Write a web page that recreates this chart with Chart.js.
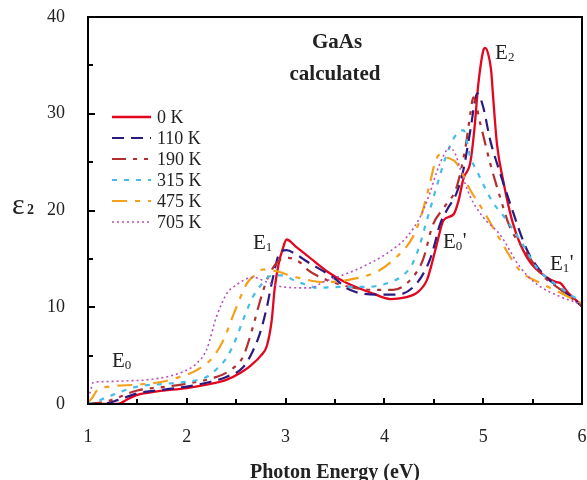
<!DOCTYPE html>
<html><head><meta charset="utf-8">
<script src="https://cdn.jsdelivr.net/npm/chart.js@4.4.1/dist/chart.umd.min.js"></script>
<style>html,body{margin:0;padding:0;background:#fff;}</style>
</head><body>
<canvas id="c" width="587" height="480"></canvas>
<script>
// ---- data ----
const seriesNames = ['0 K', '110 K', '190 K', '315 K', '475 K', '705 K'];
const xTicks = [1, 2, 3, 4, 5, 6];
const yTicks = [0, 10, 20, 30, 40];

const e0K = [1.0,1.25,1.32,1.4,1.5,1.7,2.0,2.2,2.4,2.54,2.65,2.75,2.81,2.86,2.89,2.93,2.97,3.01,3.1,3.2,3.42,3.62,3.89,4.06,4.2,4.33,4.43,4.48,4.53,4.6,4.7,4.75,4.8,4.87,4.91,4.95,5.0,5.02,5.05,5.08,5.1,5.14,5.2,5.3,5.44,5.64,5.74,5.78,5.86,6.0];
const v0K = [0,0,0.05,0.5,0.95,1.3,1.65,2.0,2.5,3.2,4.0,5.0,6.0,8.7,12.0,14.5,16.0,17.0,16.3,15.5,13.7,12.5,11.4,10.85,11.0,11.5,12.8,14.5,16.5,19.0,19.6,21.0,23.3,25.0,28.3,33.0,36.5,36.8,36.2,34.5,31.8,26.8,23.2,18.7,15.2,13.1,12.6,12.5,11.5,10.2];

const e110K = [1.0,1.2,1.3,1.5,1.7,2.0,2.2,2.4,2.57,2.66,2.74,2.81,2.86,2.94,3.01,3.1,3.22,3.48,3.65,3.96,4.13,4.33,4.46,4.5,4.56,4.63,4.73,4.80,4.87,4.94,5.0,5.07,5.17,5.27,5.44,5.6,5.8,6.0];
const v110K = [0,0.1,0.4,1.1,1.4,1.8,2.2,2.8,3.8,5.3,7.3,10.0,12.5,15.6,15.9,15.5,14.7,13.1,11.8,11.3,11.3,12.5,14.9,16.2,18.5,20.0,21.8,24.2,28.3,32.1,30.7,27.3,23.9,20.8,16.0,13.5,11.8,10.1];

const e190K = [1.0,1.2,1.5,1.8,2.0,2.3,2.44,2.57,2.67,2.74,2.81,2.91,3.03,3.15,3.22,3.42,3.65,3.89,4.09,4.26,4.39,4.49,4.61,4.73,4.82,4.87,4.90,4.97,5.07,5.17,5.27,5.44,5.6,5.8,6.0];
const v190K = [0,0.3,1.4,1.8,2.1,2.8,3.5,4.9,8.0,10.6,12.8,14.6,15.1,14.6,13.9,12.8,12.1,11.8,11.8,12.8,14.9,18.5,20.4,22.4,26.5,30.0,31.7,29.0,24.9,21.4,18.3,15.6,13.3,11.7,10.1];

const e315K = [1.0,1.05,1.19,1.5,1.8,2.0,2.2,2.3,2.41,2.5,2.57,2.67,2.76,2.84,2.97,3.1,3.22,3.32,3.55,3.82,4.06,4.2,4.29,4.36,4.43,4.53,4.62,4.71,4.80,4.87,4.94,5.02,5.10,5.20,5.37,5.55,5.8,6.0];
const v315K = [0,0.1,0.7,1.8,2.1,2.3,2.8,3.6,4.9,6.8,8.7,11.1,12.4,13.2,13.3,12.7,12.3,12.0,12.1,12.1,12.6,13.4,14.6,16.5,19.0,22.5,25.5,27.6,28.3,25.5,24.0,22.3,20.8,19.5,17.0,14.0,11.9,10.5];

const e475K = [1.0,1.04,1.09,1.22,1.5,1.75,1.93,2.1,2.27,2.37,2.49,2.61,2.7,2.77,2.92,3.04,3.15,3.38,3.62,3.93,4.09,4.29,4.38,4.46,4.52,4.57,4.63,4.73,4.87,5.0,5.17,5.37,5.58,5.78,6.0];
const v475K = [0.2,0.6,1.4,1.8,2.0,2.3,2.8,3.5,4.9,6.6,9.7,12.5,13.4,13.9,13.7,13.3,13.0,12.6,12.8,13.7,14.9,17.3,19.7,22.8,25.2,25.8,25.5,24.9,22.1,20.0,17.0,13.8,12.5,11.5,10.4];

const e705K = [1.0,1.03,1.05,1.12,1.4,1.6,1.93,2.1,2.2,2.3,2.41,2.5,2.67,2.81,2.97,3.25,3.38,3.72,4.03,4.23,4.36,4.45,4.53,4.59,4.66,4.72,4.77,4.87,5.0,5.17,5.37,5.54,5.78,6.0];
const v705K = [0.6,1.5,2.2,2.3,2.4,2.5,3.2,4.2,5.6,9.0,11.5,12.3,13.1,12.6,12.1,12.0,12.6,13.9,15.6,17.3,19.3,21.5,24.0,25.5,26.5,25.8,24.2,21.4,19.3,17.5,14.2,12.4,11.1,10.3];

const energies = [e0K, e110K, e190K, e315K, e475K, e705K];
const values = [v0K, v110K, v190K, v315K, v475K, v705K];

// ---- styles ----
const colors = ['#E3061F', '#2D1A80', '#B22F2F', '#45BDEB', '#F5A01A', '#BA4FBA'];
const dashes = [[], [12, 7], [14, 7, 4, 7, 4, 7], [5, 7], [15, 8, 5, 8], [2, 3]];
const widths = [2.3, 2.2, 2.2, 2.2, 2.2, 1.6];

const serif = "'Liberation Serif', 'Times New Roman', serif";

const datasets = seriesNames.map((n, i) => ({
  label: n,
  data: energies[i].map((e, k) => ({x: e, y: values[i][k]})),
  borderColor: colors[i],
  backgroundColor: colors[i],
  borderDash: dashes[i],
  borderWidth: widths[i],
  pointRadius: 0,
  fill: false,
  cubicInterpolationMode: 'monotone'
})).reverse();

const labels = [
  {t: 'E', s: '0', p: '', x: 1.243, y: 3.8},
  {t: 'E', s: '1', p: '', x: 2.67, y: 16.0},
  {t: 'E', s: '0', p: "'", x: 4.593, y: 16.1},
  {t: 'E', s: '2', p: '', x: 5.12, y: 35.7},
  {t: 'E', s: '1', p: "'", x: 5.676, y: 13.85}
];

const deco = {
  id: 'deco',
  afterDatasetsDraw(chart) {
    const {ctx, chartArea: a, scales: {x, y}} = chart;
    ctx.save();
    ctx.strokeStyle = '#000';
    ctx.lineWidth = 2;
    ctx.setLineDash([]);
    ctx.strokeRect(a.left, a.top, a.right - a.left, a.bottom - a.top);
    ctx.beginPath();
    for (let v = xTicks[0]; v <= xTicks[xTicks.length - 1] + 1e-6; v += 0.5) {
      const px = Math.round(x.getPixelForValue(v));
      const len = Math.abs(v - Math.round(v)) < 1e-6 ? 6 : 5;
      ctx.moveTo(px, a.bottom); ctx.lineTo(px, a.bottom - len);
    }
    for (let v = yTicks[0]; v <= yTicks[yTicks.length - 1] + 1e-6; v += 5) {
      const py = Math.round(y.getPixelForValue(v));
      const len = v % 10 === 0 ? 7 : 5;
      ctx.moveTo(a.left, py); ctx.lineTo(a.left + len, py);
    }
    ctx.stroke();

    // legend
    ctx.textBaseline = 'middle';
    ctx.textAlign = 'left';
    ctx.font = '18px ' + serif;
    seriesNames.forEach((n, i) => {
      const ly = 117 + i * 21;
      ctx.strokeStyle = colors[i];
      ctx.lineWidth = widths[i];
      ctx.setLineDash(dashes[i]);
      ctx.beginPath(); ctx.moveTo(112, ly); ctx.lineTo(151, ly); ctx.stroke();
      ctx.fillStyle = '#222';
      ctx.fillText(n, 157, ly + 1);
    });
    ctx.setLineDash([]);

    // peak labels
    ctx.textBaseline = 'alphabetic';
    ctx.fillStyle = '#222';
    labels.forEach(l => {
      const px = x.getPixelForValue(l.x), py = y.getPixelForValue(l.y);
      ctx.font = '21px ' + serif;
      ctx.fillText(l.t, px, py);
      const w = ctx.measureText(l.t).width;
      ctx.font = '13px ' + serif;
      ctx.fillText(l.s, px + w, py + 2);
      const w2 = ctx.measureText(l.s).width;
      if (l.p) { ctx.font = '21px ' + serif; ctx.fillText(l.p, px + w + w2 + 0.5, py - 1); }
    });

    // inner title
    ctx.textAlign = 'center';
    ctx.font = 'bold 21px ' + serif;
    ctx.fillText('GaAs', 337, 48);
    ctx.fillText('calculated', 335, 80);

    // y axis title
    ctx.textAlign = 'left';
    ctx.font = '30px ' + serif;
    ctx.fillText('\u03B5', 12, 214);
    ctx.font = 'bold 14px ' + serif;
    ctx.fillText('2', 27, 214);
    ctx.restore();
  }
};

function zeroPad(s) { s.paddingLeft = 0; s.paddingRight = 0; s.paddingTop = 0; s.paddingBottom = 0; }

new Chart(document.getElementById('c'), {
  type: 'line',
  data: {datasets},
  options: {
    responsive: false,
    animation: false,
    layout: {padding: {top: 17, right: 5, left: 0, bottom: 0}},
    plugins: {legend: {display: false}, tooltip: {enabled: false}},
    scales: {
      x: {
        type: 'linear', min: 1, max: 6,
        afterBuildTicks: s => { s.ticks = xTicks.map(v => ({value: v})); },
        afterFit: s => { s.height = 76; zeroPad(s); },
        grid: {display: false}, border: {display: false},
        ticks: {font: {family: serif, size: 18}, color: '#222', padding: 14},
        title: {display: true, text: 'Photon Energy (eV)', font: {family: serif, size: 20, weight: 'bold', lineHeight: 1}, color: '#222', padding: {top: 0, bottom: -3}}
      },
      y: {
        type: 'linear', min: 0, max: 40,
        afterBuildTicks: s => { s.ticks = yTicks.map(v => ({value: v})); },
        afterFit: s => { s.width = 88; zeroPad(s); },
        grid: {display: false}, border: {display: false},
        ticks: {font: {family: serif, size: 18}, color: '#222', padding: 15}
      }
    }
  },
  plugins: [deco]
});
</script>
</body></html>
